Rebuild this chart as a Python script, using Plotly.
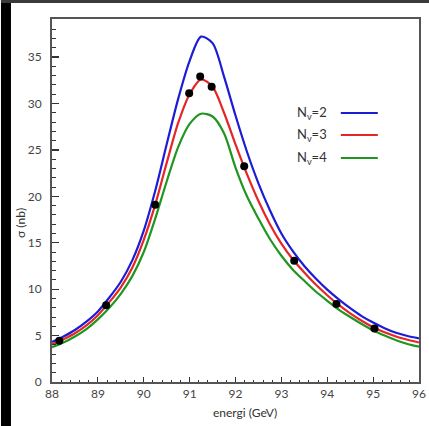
import plotly.graph_objects as go

# ---- data ----
energy = [88.0, 88.25, 88.5, 88.75, 89.0, 89.25, 89.5, 89.75, 90.0, 90.25, 90.5, 90.75,
          91.0, 91.25, 91.5, 91.75, 92.0, 92.25, 92.5, 92.75, 93.0, 93.25, 93.5, 93.75,
          94.0, 94.25, 94.5, 94.75, 95.0, 95.25, 95.5, 95.75, 96.0]
sigma_nv2 = [4.3, 4.9, 5.6, 6.5, 7.6, 9.1, 10.8, 13.1, 16.3, 20.6, 25.6, 30.5,
             34.6, 37.2, 36.5, 32.9, 28.7, 24.8, 21.4, 18.5, 16.0, 14.1, 12.5, 11.15,
             9.95, 8.9, 7.95, 7.1, 6.4, 5.8, 5.3, 4.95, 4.7]
sigma_nv3 = [4.05, 4.6, 5.25, 6.1, 7.2, 8.6, 10.2, 12.3, 15.3, 19.1, 23.6, 27.9,
             31.0, 32.6, 31.8, 29.0, 25.6, 22.4, 19.5, 17.0, 14.9, 13.2, 11.8, 10.5,
             9.35, 8.3, 7.4, 6.6, 5.9, 5.35, 4.9, 4.55, 4.25]
sigma_nv4 = [3.75, 4.25, 4.9, 5.7, 6.75, 8.0, 9.5, 11.4, 14.0, 17.6, 21.6, 25.3,
             27.8, 28.9, 28.6, 26.8, 23.1, 20.0, 17.6, 15.4, 13.6, 12.1, 10.9, 9.75,
             8.75, 7.8, 7.0, 6.25, 5.55, 5.0, 4.5, 4.1, 3.8]
data_e = [88.16, 89.18, 90.25, 90.99, 91.23, 91.48, 92.19, 93.28, 94.2, 95.03]
data_sigma = [4.43, 8.28, 19.1, 31.1, 32.9, 31.8, 23.25, 13.07, 8.39, 5.76]

series_names = ["N<sub>ν</sub>=2", "N<sub>ν</sub>=3", "N<sub>ν</sub>=4"]
series_colors = ["#1c1cd6", "#e42626", "#1f961f"]
x_ticks = [88, 89, 90, 91, 92, 93, 94, 95, 96]
y_ticks = [0, 5, 10, 15, 20, 25, 30, 35]

# ---- layout geometry ----
# the photographed page is squeezed horizontally by about 429/437, so widths are set in page pixels
K = 437 / 429
W, H = 437, 426
L = round(51 * K)
R = W - round(418 * K)
T, B = 19, 44
pw, ph = W - L - R, H - T - B


def px(x_ref):
    """reference-picture x pixel -> paper coordinate"""
    return (x_ref * K - L) / pw


def py(y):
    return (H - B - y) / ph


fig = go.Figure()
for name, color, ys in zip(series_names, series_colors, [sigma_nv2, sigma_nv3, sigma_nv4]):
    fig.add_trace(go.Scatter(x=energy, y=ys, mode="lines", name=name,
                             line=dict(color=color, width=2.2, shape="spline", smoothing=0.8),
                             showlegend=False, hoverinfo="skip"))
fig.add_trace(go.Scatter(x=data_e, y=data_sigma, mode="markers", name="data",
                         marker=dict(color="black", size=8), showlegend=False, hoverinfo="skip"))

tickfont = dict(family="Lato, 'Open Sans', sans-serif", size=12, color="#444")
fig.update_xaxes(range=[88, 96], tickvals=x_ticks, ticktext=[str(v) for v in x_ticks],
                 ticks="inside", ticklen=5, tickwidth=1.2, tickcolor="#333",
                 minor=dict(dtick=0.2, tick0=88, ticks="inside", ticklen=2.5, tickcolor="#333", tickwidth=1),
                 showline=True, mirror=True, linecolor="#555", linewidth=2,
                 showgrid=False, zeroline=False, tickfont=tickfont)
fig.update_yaxes(range=[0, 39.1], tickvals=y_ticks, ticktext=[str(v) for v in y_ticks],
                 ticks="inside", ticklen=7, tickwidth=1.2, tickcolor="#333",
                 minor=dict(dtick=1, tick0=0, ticks="inside", ticklen=4, tickcolor="#333", tickwidth=1),
                 showline=True, mirror=True, linecolor="#555", linewidth=2,
                 showgrid=False, zeroline=False, tickfont=tickfont, ticklabelstandoff=6)

shapes = [
    # black strip on left edge and dark top edge of the photographed page
    dict(type="rect", xref="paper", yref="paper", x0=px(0), x1=px(10), y0=py(H), y1=py(0),
         fillcolor="black", line=dict(width=0), layer="above"),
    dict(type="rect", xref="paper", yref="paper", x0=px(0), x1=px(429), y0=py(3), y1=py(0),
         fillcolor="#3a3a3a", line=dict(width=0), layer="above"),
]
annotations = [
    dict(text="energi (GeV)", xref="paper", yref="paper", x=px(244), y=py(412),
         xanchor="center", yanchor="middle", showarrow=False,
         font=dict(family="Lato, 'Open Sans', sans-serif", size=12, color="#333")),
    dict(text="σ (nb)", xref="paper", yref="paper", x=px(19), y=py(223), textangle=-90,
         xanchor="center", yanchor="middle", showarrow=False,
         font=dict(family="Lato, 'Open Sans', sans-serif", size=12, color="#333")),
]
legend_y = [113, 135, 158]
for name, color, ly in zip(series_names, series_colors, legend_y):
    annotations.append(dict(text=name, xref="paper", yref="paper", x=px(328), y=py(ly),
                            xanchor="right", yanchor="middle", showarrow=False,
                            font=dict(family="Lato, 'Open Sans', sans-serif", size=13, color="#333")))
    shapes.append(dict(type="line", xref="paper", yref="paper", x0=px(340), x1=px(377),
                       y0=py(ly), y1=py(ly), line=dict(color=color, width=2)))

fig.update_layout(width=W, height=H, margin=dict(l=L, r=R, t=T, b=B),
                  paper_bgcolor="white", plot_bgcolor="white", hovermode=False,
                  shapes=shapes, annotations=annotations, showlegend=False)

post = (
    "document.documentElement.style.margin='0';document.body.style.margin='0';"
    "document.documentElement.style.overflow='hidden';document.body.style.overflow='hidden';"
    "var g=document.getElementById('{plot_id}');"
    "g.style.position='fixed';g.style.left='0px';g.style.top='0px';"
)
fig.write_html("out.html", config={"displayModeBar": False, "staticPlot": True}, post_script=post)
